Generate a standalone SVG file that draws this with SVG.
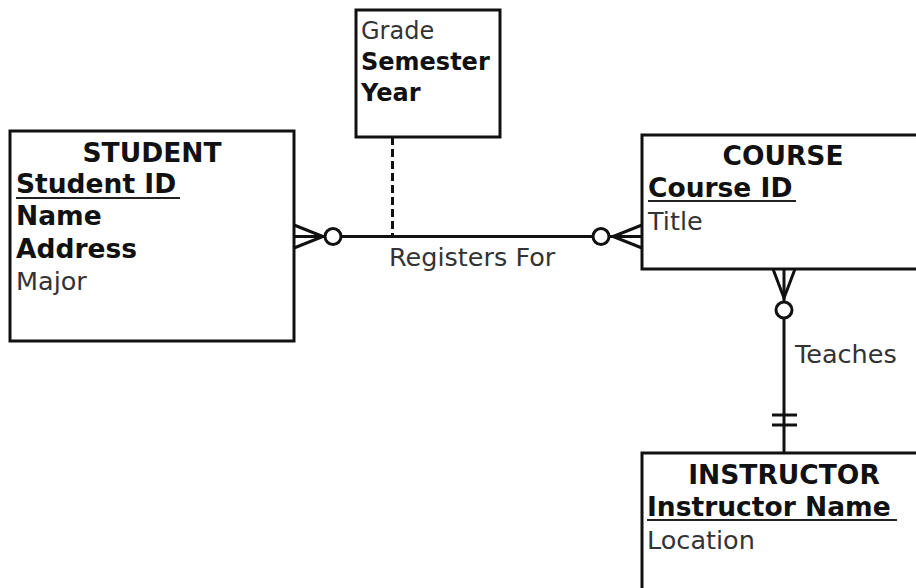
<svg xmlns="http://www.w3.org/2000/svg" width="916" height="588" viewBox="0 0 916 588">
<style>
.box{fill:#fff;stroke:#111;stroke-width:3}
.t{font-family:"DejaVu Sans","Liberation Sans",sans-serif;font-size:25.5px;fill:#333}
.b{font-family:"DejaVu Sans","Liberation Sans",sans-serif;font-size:26.5px;font-weight:bold;fill:#111}
.s{font-size:24px}
.h{text-anchor:middle}
.u{stroke:#222;stroke-width:2}
.c{fill:none;stroke:#111;stroke-width:3}
.o{fill:#fff;stroke:#111;stroke-width:3}
</style>
<rect width="916" height="588" fill="#fff"/>
<g id="connectors">
<line class="c" x1="392.5" y1="137" x2="392.5" y2="236" stroke-dasharray="8,4"/>
<line class="c" x1="294" y1="236.5" x2="642" y2="236.5"/>
<path class="c" d="M294,225 L323,236.5 L294,248"/>
<circle class="o" cx="333" cy="236.5" r="8"/>
<path class="c" d="M642,225 L613,236.5 L642,248"/>
<circle class="o" cx="601" cy="236.5" r="8"/>
<line class="c" x1="784" y1="269" x2="784" y2="453"/>
<path class="c" d="M773,269 L784,298 L795,269"/>
<circle class="o" cx="784" cy="310" r="8"/>
<line class="c" x1="772" y1="415" x2="797" y2="415"/>
<line class="c" x1="772" y1="425" x2="797" y2="425"/>
<text class="t" x="795" y="363">Teaches</text>
<text class="t" x="389" y="266">Registers For</text>
</g>
<g id="student">
<rect class="box" x="10" y="131" width="284" height="210"/>
<text class="b h" x="152" y="162">STUDENT</text>
<text class="b" x="16" y="193">Student ID</text>
<line class="u" x1="16" y1="198" x2="180" y2="198"/>
<text class="b" x="16" y="225">Name</text>
<text class="b" x="16" y="258">Address</text>
<text class="t" x="16" y="290">Major</text>
</g>
<g id="registers-attributes">
<rect class="box" x="356" y="10" width="144" height="127"/>
<text class="t s" x="361" y="39">Grade</text>
<text class="b s" x="361" y="70">Semester</text>
<text class="b s" x="361" y="101">Year</text>
</g>
<g id="course">
<rect class="box" x="642" y="135" width="300" height="134"/>
<text class="b h" x="783" y="165">COURSE</text>
<text class="b" x="648" y="197">Course ID</text>
<line class="u" x1="648" y1="201" x2="796" y2="201"/>
<text class="t" x="648" y="230">Title</text>
</g>
<g id="instructor">
<rect class="box" x="642" y="453" width="300" height="160"/>
<text class="b h" x="784" y="484">INSTRUCTOR</text>
<text class="b" x="647" y="516">Instructor Name</text>
<line class="u" x1="647" y1="520" x2="897" y2="520"/>
<text class="t" x="647" y="549">Location</text>
</g>
</svg>
